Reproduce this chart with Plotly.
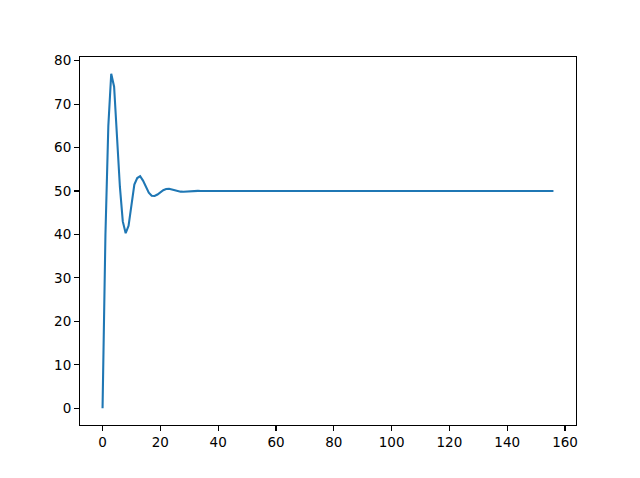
import plotly.graph_objects as go

# Step-response samples (integer time steps 0..156)
x_vals = list(range(157))
y_head = [0.0, 40.0, 65.0, 77.0, 74.0, 62.0, 51.0, 43.0, 40.3, 42.0,
          47.0, 51.5, 53.0, 53.4, 52.4, 50.9, 49.6, 48.9, 48.85, 49.2,
          49.75, 50.2, 50.45, 50.5, 50.35, 50.15, 49.97, 49.86, 49.84, 49.9,
          49.97, 50.03, 50.05, 50.04, 50.02]
y_tail = [50.0] * (len(x_vals) - len(y_head))
y_vals = y_head + y_tail

x_ticks = [0, 20, 40, 60, 80, 100, 120, 140, 160]
y_ticks = [0, 10, 20, 30, 40, 50, 60, 70, 80]

fig = go.Figure()
fig.add_trace(go.Scatter(x=x_vals, y=y_vals, mode="lines",
                         line=dict(color="#1f77b4", width=2.08),
                         showlegend=False, hoverinfo="skip"))

xmin, xmax = min(x_vals), max(x_vals)
ymin, ymax = min(y_vals), max(y_vals)
xpad = (xmax - xmin) * 0.05
ypad = (ymax - ymin) * 0.05

axis_common = dict(showgrid=False, zeroline=False, showline=True, linecolor="black",
                   linewidth=1.1, mirror=True, ticks="outside", ticklen=4.9,
                   tickwidth=1.1, tickcolor="black",
                   tickfont=dict(family="DejaVu Sans", size=13.5, color="black"))

fig.update_layout(
    width=640, height=478,
    margin=dict(l=80, r=64, t=57, b=53, pad=0),
    paper_bgcolor="white", plot_bgcolor="white",
    hovermode=False,
    xaxis=dict(range=[xmin - xpad, xmax + xpad], tickvals=x_ticks,
               ticktext=[str(v) for v in x_ticks], **axis_common),
    yaxis=dict(range=[ymin - ypad, ymax + ypad], tickvals=y_ticks,
               ticktext=[str(v) for v in y_ticks], **axis_common),
)

fig.write_html("out.html",
               config={"displayModeBar": False, "staticPlot": True},
               post_script="document.body.style.margin='0';document.body.style.overflow='hidden';")
